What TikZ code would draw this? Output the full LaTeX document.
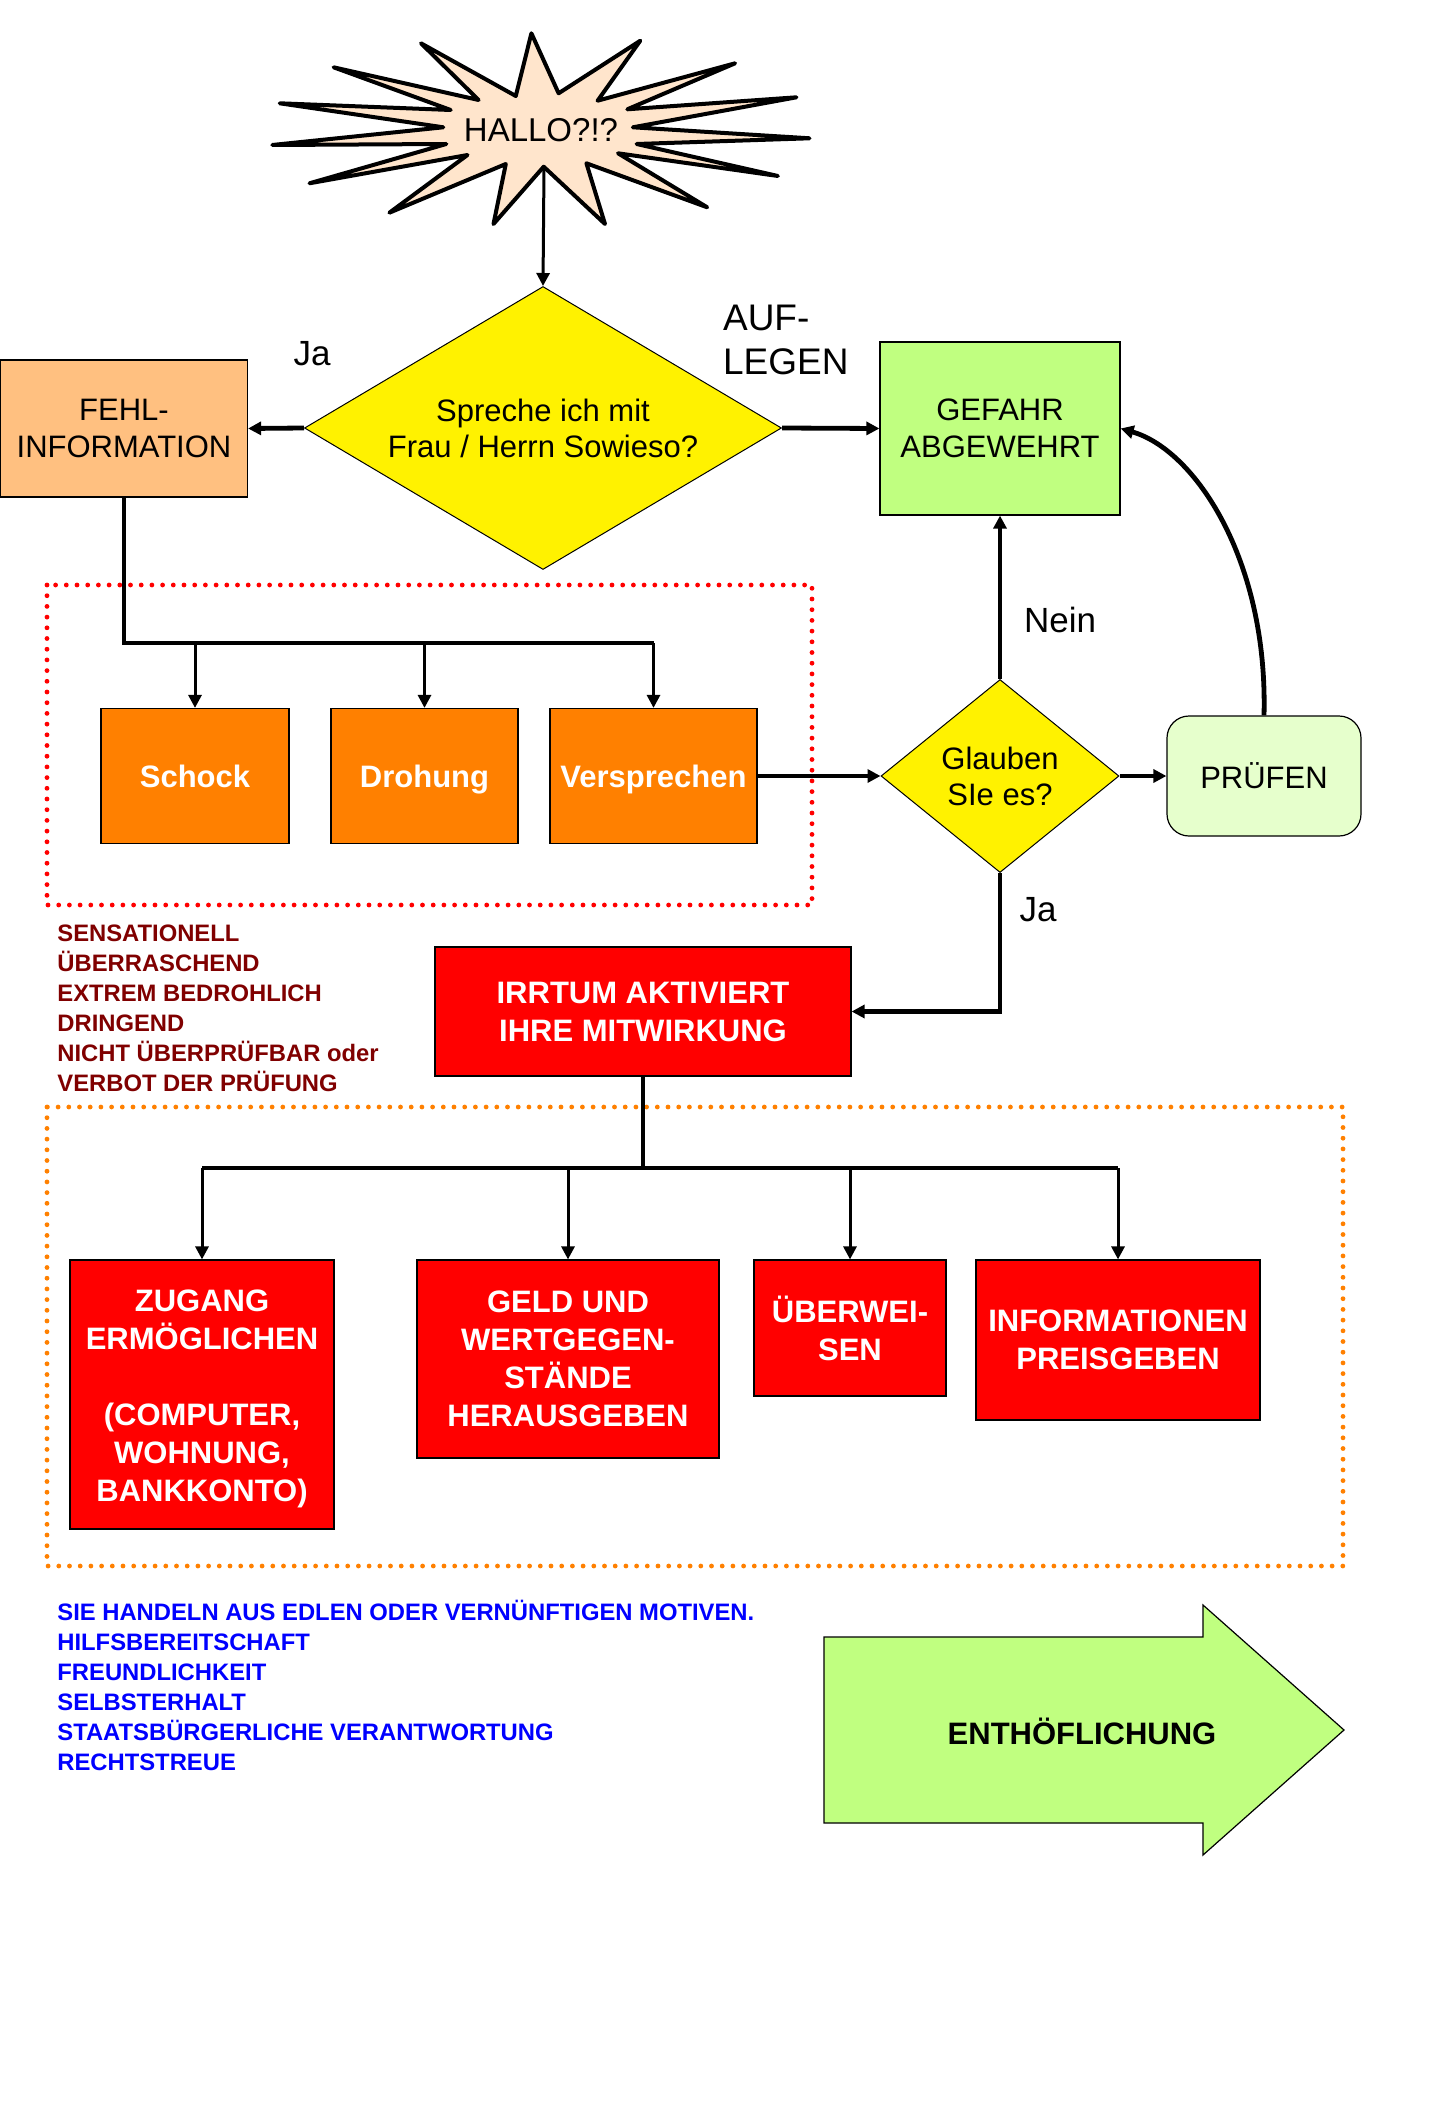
\documentclass[tikz,border=0pt]{standalone}
\usepackage{fontspec}
\setmainfont{Liberation Sans}
\usetikzlibrary{arrows.meta,shapes.geometric,positioning}

\definecolor{sternfill}{RGB}{255,229,204}
\definecolor{fehlfill}{RGB}{255,192,128}
\definecolor{gruen}{RGB}{192,255,128}
\definecolor{hellgruen}{RGB}{230,255,204}
\definecolor{orangefill}{RGB}{255,128,0}
\definecolor{dunkelrot}{RGB}{128,0,0}

\begin{document}
\begin{tikzpicture}[x=0.5pt,y=-0.5pt,
  >={Triangle[length=6.5pt,width=6.5pt]},
  box/.style={draw=black,line width=0.6pt,inner sep=0pt,align=center,
    font=\fontsize{15.5}{18.5}\selectfont},
  orangebox/.style={box,fill=orangefill,text=white,text height=11.1pt,text depth=0pt,
    font=\bfseries\fontsize{15.5}{19}\selectfont},
  redbox/.style={box,fill=red,text=white,
    font=\bfseries\fontsize{15.5}{19}\selectfont},
  raute/.style={draw=black,line width=0.5pt,shape=diamond,fill=yellow,
    inner sep=0pt,align=center,font=\fontsize{15.5}{18}\selectfont},
  lbl/.style={font=\fontsize{17.5}{21}\selectfont},
  conn/.style={line width=1.5pt},
  fatconn/.style={line width=2.4pt},
  dotframe/.style={line width=2.4pt,line cap=round,dash pattern=on 0pt off 5.35pt},
  rotliste/.style={text=dunkelrot,inner sep=0pt,font=\bfseries\fontsize{11.9}{15}\selectfont},
  blauliste/.style={text=blue,inner sep=0pt,font=\bfseries\fontsize{11.9}{15}\selectfont}]
\useasboundingbox (0,0) rectangle (1443,2102);

% Stern
\draw[fill=sternfill,line width=2pt,line join=round]
  (531.4,33.3) -- (558.6,93.3) -- (640.3,40.7) -- (597.6,100.7) -- (735.1,63.3)
  -- (627.3,109.3) -- (796.5,97.3) -- (632.9,127.3) -- (809.5,138.3) -- (636.6,144)
  -- (777.9,176) -- (618,153.3) -- (707.2,207.3) -- (586.4,163.3) -- (605,224)
  -- (543.7,166.7) -- (493.5,224) -- (505.8,164) -- (389.4,212.7) -- (467.5,155)
  -- (309.5,183.3) -- (446.3,144) -- (272.3,145) -- (443.3,127.3) -- (279.7,103.3)
  -- (450.7,110) -- (333.6,67.3) -- (478.6,100) -- (421,43.3) -- (515.8,96) -- cycle;
\node[font=\fontsize{16.5}{19}\selectfont] (hallo) at (541,130) {HALLO?!?};
\coordinate (hallofuss) at (544,167);

% erste Frage
\node[raute,minimum width=238.5pt,minimum height=141.5pt,aspect=1.7] (sprechen) at (543,428)
  {Spreche ich mit\\Frau / Herrn Sowieso?};
\node[box,fill=fehlfill,minimum width=123.5pt,minimum height=68.5pt] (fehl) at (124,428.5)
  {FEHL-\\INFORMATION};
\node[box,fill=gruen,minimum width=120pt,minimum height=86.5pt] (gefahr) at (1000,428.5)
  {GEFAHR\\ABGEWEHRT};
\draw[conn,->] (hallofuss) -- (sprechen.north);
\draw[fatconn,->] (sprechen.west) -- (fehl.east);
\draw[fatconn,->] (sprechen.east) -- (gefahr.west);
\node[lbl] (ja1) at (312,354) {Ja};
\node[anchor=west,align=left,font=\fontsize{18.5}{22}\selectfont] (auflegen) at (716,340)
  {AUF-\\LEGEN};

% Methoden
\draw[dotframe,draw=red] (47,585) rectangle (812,905);
\node[orangebox,minimum width=94pt,minimum height=67.5pt] (schock) at (195,776) {Schock};
\node[orangebox,minimum width=93.5pt,minimum height=67.5pt] (drohung) at (424.5,776) {Drohung};
\node[orangebox,minimum width=103.5pt,minimum height=67.5pt] (versprechen) at (653.5,776) {Versprechen};
\coordinate (gabel1) at (0,643);
\draw[fatconn] (fehl.south) |- (versprechen.north |- gabel1);
\foreach \ziel in {schock,drohung,versprechen}
  \draw[conn,->] (\ziel.north |- gabel1) -- (\ziel.north);

% zweite Frage
\node[raute,minimum width=119pt,minimum height=96.5pt,aspect=1.23] (glauben) at (1000,776)
  {Glauben\\SIe es?};
\node[box,fill=hellgruen,rounded corners=11pt,minimum width=97pt,minimum height=60pt] (pruefen)
  at (1264,776) {PRÜFEN};
\draw[fatconn,->] (versprechen.east) -- (glauben.west);
\draw[fatconn,->] (glauben.east) -- (pruefen.west);
\draw[fatconn,->] (glauben.north) -- (gefahr.south);
\draw[fatconn,->] (pruefen.north) .. controls (1268,560) and (1195,450) .. (gefahr.east);
\node[lbl] (nein) at (1060,620) {Nein};

\node[redbox,minimum width=208pt,minimum height=64.5pt] (irrtum) at (643,1011.5)
  {IRRTUM AKTIVIERT\\IHRE MITWIRKUNG};
\draw[fatconn,->] (glauben.south) |- (irrtum.east);
\node[lbl] (ja2) at (1038,910) {Ja};

\foreach \zeile [count=\i] in {SENSATIONELL,ÜBERRASCHEND,EXTREM BEDROHLICH,DRINGEND,
    NICHT ÜBERPRÜFBAR oder,VERBOT DER PRÜFUNG}
  \node[rotliste,anchor=base west] (rot\i) at (57,{941+30*(\i-1)}) {\zeile};

% Folgen
\draw[dotframe,draw=orangefill] (47,1107) rectangle (1343,1566);
\node[redbox,minimum width=132pt,minimum height=134.5pt] (zugang) at (202,1394.5)
  {\mbox{}\\[-4pt]ZUGANG\\ERMÖGLICHEN\\[19pt](COMPUTER,\\WOHNUNG,\\BANKKONTO)};
\node[redbox,minimum width=151pt,minimum height=99pt] (geld) at (568,1359)
  {GELD UND\\WERTGEGEN-\\STÄNDE\\HERAUSGEBEN};
\node[redbox,minimum width=96pt,minimum height=68pt] (ueberweisen) at (850,1328)
  {ÜBERWEI-\\SEN};
\node[redbox,minimum width=142pt,minimum height=80pt] (info) at (1118,1340)
  {INFORMATIONEN\\PREISGEBEN};
\coordinate (gabel2) at (0,1168);
\draw[fatconn] (irrtum.south) -- (irrtum.south |- gabel2);
\draw[fatconn] (zugang.north |- gabel2) -- (info.north |- gabel2);
\foreach \ziel in {zugang,geld,ueberweisen,info}
  \draw[conn,->] (\ziel.north |- gabel2) -- (\ziel.north);

\foreach \zeile [count=\i] in {SIE HANDELN AUS EDLEN ODER VERNÜNFTIGEN MOTIVEN.,
    HILFSBEREITSCHAFT,FREUNDLICHKEIT,SELBSTERHALT,STAATSBÜRGERLICHE VERANTWORTUNG,RECHTSTREUE}
  \node[blauliste,anchor=base west] (blau\i) at (57,{1620.5+30*(\i-1)}) {\zeile};

% Pfeil
\draw[fill=gruen,line width=0.6pt] (824,1637) -- (1203,1637) -- (1203,1605) -- (1344,1730)
  -- (1203,1855) -- (1203,1823) -- (824,1823) -- cycle;
\node[font=\bfseries\fontsize{15.5}{19}\selectfont] (enthoeflichung) at (1082,1731) {ENTHÖFLICHUNG};
\end{tikzpicture}
\end{document}
